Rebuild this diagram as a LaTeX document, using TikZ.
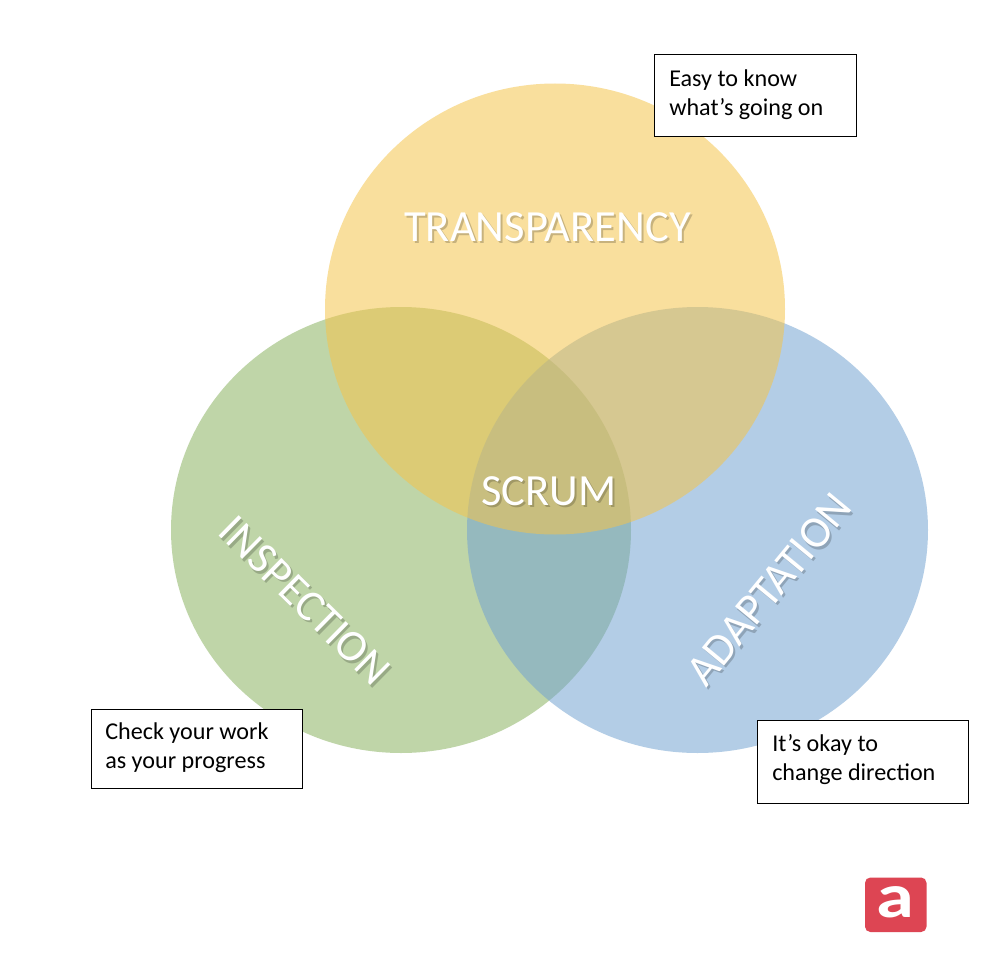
\documentclass[tikz,border=0pt]{standalone}
\usepackage{fontspec}
\setmainfont{Carlito}
\usetikzlibrary{calc}
\definecolor{cyel}{HTML}{F5C44A}
\definecolor{cgrn}{HTML}{89B260}
\definecolor{cblu}{HTML}{73A3D1}
\definecolor{clogo}{HTML}{DD4553}
\tikzset{
  blob/.style={opacity=.54},
  lbl/.style={inner sep=0pt,text=white,anchor=center,font=\fontsize{33.4}{33.4}\selectfont},
  shade/.style={lbl,text=black,opacity=.2},
  note/.style={draw=black,line width=.7pt,fill=white,inner sep=0pt,anchor=north west},
  notetext/.style={anchor=west,align=left,inner sep=0pt,font=\fontsize{18.1}{21.6}\selectfont},
}
\begin{document}
\begin{tikzpicture}[x=.75pt,y=-.75pt]
\useasboundingbox (0,0) rectangle (1000,956);
\fill[white] (0,0) rectangle (1000,956);
\fill[cgrn,blob] (401,530) ellipse [x radius=230,y radius=223];
\fill[cblu,blob] (697.5,530) ellipse [x radius=230.5,y radius=223];
\fill[cyel,blob] (555,309) ellipse [x radius=230,y radius=225.5];
\node[shade] (s1) at (549.5,229.5) {TRANSPARENCY};
\node[shade] (s2) at (551,493.5) {SCRUM};
\node[shade,rotate=-44.5] (s3) at (307,603) {INSPECTION};
\node[shade,rotate=50.5] (s4) at (771,592) {ADAPTATION};
\node[lbl] (transparency) at (547.5,227) {TRANSPARENCY};
\node[lbl] (scrum) at (549,491) {SCRUM};
\node[lbl,rotate=-44.5] (inspection) at (305,600.5) {INSPECTION};
\node[lbl,rotate=50.5] (adaptation) at (769,589.5) {ADAPTATION};
\node[note,minimum width=151.5pt,minimum height=60.75pt] (n1) at (654,54.5) {};
\node[notetext] (t1) at (669,94.5) {Easy to know\\what’s going on};
\node[note,minimum width=158.25pt,minimum height=59.25pt] (n2) at (90.5,709) {};
\node[notetext] (t2) at (105,748) {Check your work\\as your progress};
\node[note,minimum width=158.25pt,minimum height=62.25pt] (n3) at (757,719.5) {};
\node[notetext] (t3) at (772,759.5) {It’s okay to\\change direction};
\fill[clogo,rounded corners=4pt] (865,877.5) rectangle (926.5,932);
\node[lbl,xscale=1.22,font=\fontsize{47}{47}\selectfont\bfseries] (logo) at (895.5,902) {a};
\end{tikzpicture}
\end{document}
